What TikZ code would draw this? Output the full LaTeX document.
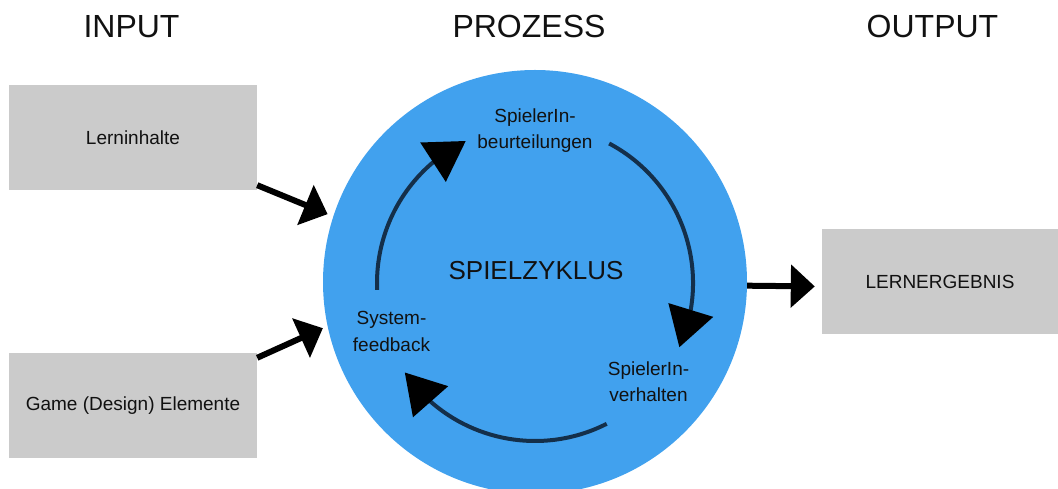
\documentclass[tikz,border=0pt]{standalone}
\usepackage{fontspec}
\setmainfont{Liberation Sans}
\usetikzlibrary{arrows.meta,bending}

\definecolor{cycleblue}{HTML}{41A1EE}
\definecolor{boxgray}{HTML}{CBCBCB}
\definecolor{ringnavy}{HTML}{142F4A}
\definecolor{inktext}{HTML}{111111}

\tikzset{
  heading/.style={font=\fontsize{32}{38}\selectfont, text=inktext, anchor=base, inner sep=0pt},
  grayblock/.style={fill=boxgray, draw=none, minimum height=105pt, inner sep=0pt,
                    font=\fontsize{19}{24}\selectfont, text=inktext},
  phase/.style={font=\fontsize{19}{26.5}\selectfont, align=center, text=inktext, inner sep=0pt},
  flowarrow/.style={line width=6pt, black, -{Triangle[length=24pt,width=42pt]}},
  cyclearc/.style={line width=4pt, ringnavy, -{Triangle[length=39pt,width=46pt,color=black,flex]}}
}

\begin{document}
\begin{tikzpicture}[x=1pt,y=1pt]
  \useasboundingbox (0,0) rectangle (1058,489);
  \clip (0,0) rectangle (1058,489);

  % column headings
  \node[heading] (hin)  at (131.5,451) {INPUT};
  \node[heading] (hpro) at (529,451)   {PROZESS};
  \node[heading] (hout) at (932.5,451) {OUTPUT};

  % input and output blocks
  \node[grayblock, minimum width=248pt] (li) at (133,351.5) {Lerninhalte};
  \node[grayblock, minimum width=248pt] (ge) at (133,83.5)  {Game (Design) Elemente};
  \node[grayblock, minimum width=236pt] (le) at (940,207.5) {LERNERGEBNIS};

  % game cycle disc
  \node[circle, fill=cycleblue, minimum size=424pt, inner sep=0pt] (zyk) at (535,207) {};
  \coordinate (c) at (535,206);

  % cycle arcs
  \draw[cyclearc] (c) ++(62:158)    arc[start angle=62,    end angle=-24,   radius=158];
  \draw[cyclearc] (c) ++(-63:158)   arc[start angle=-63,   end angle=-145.5, radius=158];
  \draw[cyclearc] (c) ++(182.5:158) arc[start angle=182.5, end angle=116,   radius=158];

  % cycle labels
  \node[font=\fontsize{26}{30}\selectfont, text=inktext, anchor=base, inner sep=0pt] (title) at (536,209) {SPIELZYKLUS};
  \node[phase] (beur) at (535,358.5)   {SpielerIn-\\beurteilungen};
  \node[phase] (verh) at (648.5,107.5) {SpielerIn-\\verhalten};
  \node[phase] (sysf) at (391.5,157.3) {System-\\feedback};

  % flows into and out of the cycle
  \draw[flowarrow, shorten >=6pt] ([yshift=5pt]li.south east) -- (zyk.162);
  \draw[flowarrow, shorten >=5pt] ([yshift=-5pt]ge.north east) -- (zyk.192);
  \draw[flowarrow, shorten >=7pt] (zyk.-1.2) -- ([yshift=-5pt]le.west);
\end{tikzpicture}
\end{document}
